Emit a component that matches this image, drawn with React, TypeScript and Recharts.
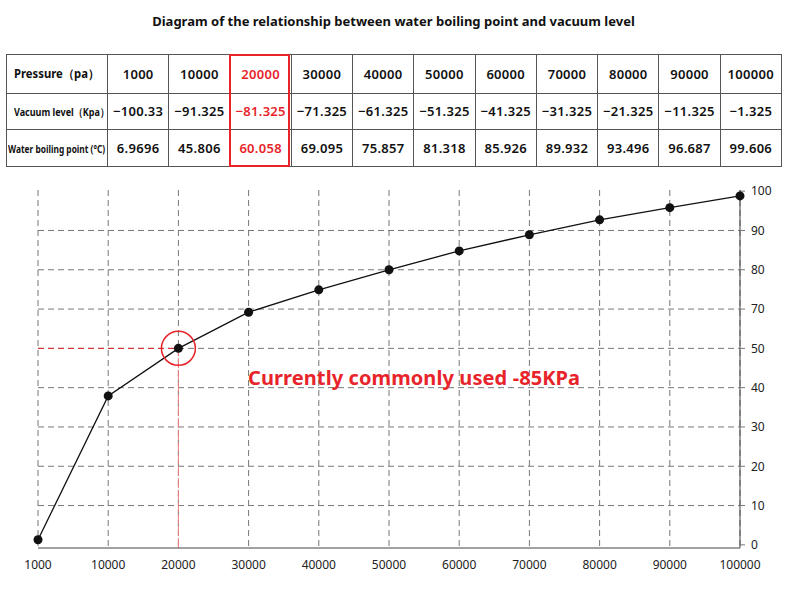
import React from 'react';
import {
  LineChart,
  Line,
  XAxis,
  YAxis,
  CartesianGrid,
  ReferenceLine,
  ReferenceDot,
  ReferenceArea,
} from 'recharts';

// table rows, as printed above the chart
const pressures = ['1000', '10000', '20000', '30000', '40000', '50000', '60000', '70000', '80000', '90000', '100000'];
const vacuumLevels = ['−100.33', '−91.325', '−81.325', '−71.325', '−61.325', '−51.325', '−41.325', '−31.325', '−21.325', '−11.325', '−1.325'];
const boilingPoints = ['6.9696', '45.806', '60.058', '69.095', '75.857', '81.318', '85.926', '89.932', '93.496', '96.687', '99.606'];

// curve as drawn on the grid (one grid step = 10)
const plottedValues = [1.3, 37.9, 50, 59.2, 64.9, 70, 74.8, 78.9, 82.7, 85.8, 88.8];

// right axis: evenly spaced grid lines, printed labels skip 60
const yTicks = [0, 10, 20, 30, 40, 50, 60, 70, 80, 90];
const yTickLabels = ['0', '10', '20', '30', '40', '50', '70', '80', '90', '100'];

const highlighted = '20000';

const data = pressures.map((p, i) => ({ pressure: p, value: plottedValues[i] }));

const RED = '#e8242b';
const FONT = '"Noto Sans", "Open Sans", sans-serif';

const cell: React.CSSProperties = {
  border: '1px solid #555',
  textAlign: 'center',
  fontWeight: 600,
  fontSize: 13,
  letterSpacing: 0.3,
  color: '#111',
  padding: 0,
};

const labelCell: React.CSSProperties = {
  ...cell,
  fontWeight: 700,
  letterSpacing: 0,
  textAlign: 'left',
  whiteSpace: 'nowrap',
};

// squeeze a row label into the narrow first column
function Squeezed({ text, size, scale, left }: { text: string; size: number; scale: number; left: number }) {
  return (
    <span style={{ display: 'inline-block', fontSize: size, transform: `scaleX(${scale})`, transformOrigin: 'left center', marginLeft: left }}>
      {text}
    </span>
  );
}

export default function App() {
  const rows = [
    { label: <Squeezed text="Pressure（pa）" size={12} scale={0.94} left={7} />, values: pressures },
    { label: <Squeezed text="Vacuum level（Kpa）" size={11} scale={0.82} left={7} />, values: vacuumLevels },
    { label: <Squeezed text="Water boiling point (°C)" size={11} scale={0.76} left={1} />, values: boilingPoints },
  ];
  const hiIndex = pressures.indexOf(highlighted);

  return (
    <div style={{ position: 'absolute', left: 0, top: 0, width: 787, height: 592, background: '#fff', fontFamily: FONT }}>
      <div style={{ position: 'absolute', top: 12, left: 0, width: 787, textAlign: 'center', fontWeight: 700, fontSize: 13, color: '#111' }}>
        Diagram of the relationship between water boiling point and vacuum level
      </div>

      <table style={{ position: 'absolute', left: 6, top: 54, width: 776, height: 113, borderCollapse: 'collapse', tableLayout: 'fixed', fontFamily: FONT }}>
        <colgroup>
          <col style={{ width: 101 }} />
          {pressures.map((p) => (
            <col key={p} />
          ))}
        </colgroup>
        <tbody>
          {rows.map((r, ri) => (
            <tr key={ri}>
              <td style={labelCell}>{r.label}</td>
              {r.values.map((v, i) => (
                <td key={i} style={{ ...cell, color: i === hiIndex ? RED : '#111' }}>
                  {v}
                </td>
              ))}
            </tr>
          ))}
        </tbody>
      </table>
      <div
        style={{
          position: 'absolute',
          zIndex: 2,
          left: 229,
          top: 53.5,
          width: 61,
          height: 113,
          boxSizing: 'border-box',
          border: `2px solid ${RED}`,
        }}
      />

      <div style={{ position: 'absolute', top: 180, left: 0 }}>
        <LineChart width={787} height={412} data={data} margin={{ top: 10, right: 0, bottom: 0, left: 38 }}>
          <CartesianGrid stroke="#777" strokeDasharray="6 4" horizontalValues={yTicks.slice(1, -1)} />
          <XAxis
            dataKey="pressure"
            interval={0}
            height={44}
            tickLine={false}
            axisLine={{ stroke: '#444' }}
            tick={{ fontSize: 12, fill: '#222', fontFamily: FONT }}
            tickMargin={6}
          />
          <YAxis
            orientation="right"
            width={47}
            domain={[-0.8, 90.3]}
            ticks={yTicks}
            interval={0}
            tickFormatter={(v: number) => yTickLabels[yTicks.indexOf(v)] ?? ''}
            axisLine={{ stroke: '#444' }}
            tickLine={{ stroke: '#777' }}
            tickSize={5}
            tickMargin={6}
            tick={{ fontSize: 12, fill: '#222', fontFamily: FONT, textAnchor: 'start' }}
          />
          <ReferenceArea fill="none" stroke="#444" strokeWidth={1} />
          <ReferenceLine
            segment={[{ x: pressures[0], y: 50 }, { x: highlighted, y: 50 }]}
            stroke={RED}
            strokeDasharray="6 4"
          />
          <ReferenceLine
            segment={[{ x: highlighted, y: -0.8 }, { x: highlighted, y: 50 }]}
            stroke="#f07a7e"
            strokeDasharray="10 2"
          />
          <Line
            type="linear"
            dataKey="value"
            stroke="#111"
            strokeWidth={1.3}
            dot={{ r: 4.5, fill: '#111', stroke: '#111', strokeWidth: 0 }}
            isAnimationActive={false}
          />
          <ReferenceDot x={highlighted} y={50} r={17} fill="none" stroke={RED} strokeWidth={1.5} />
        </LineChart>
      </div>

      <div style={{ position: 'absolute', left: 248, top: 364, fontWeight: 700, fontSize: 20, color: RED, whiteSpace: 'nowrap', letterSpacing: 0.1 }}>
        Currently commonly used -85KPa
      </div>
    </div>
  );
}
